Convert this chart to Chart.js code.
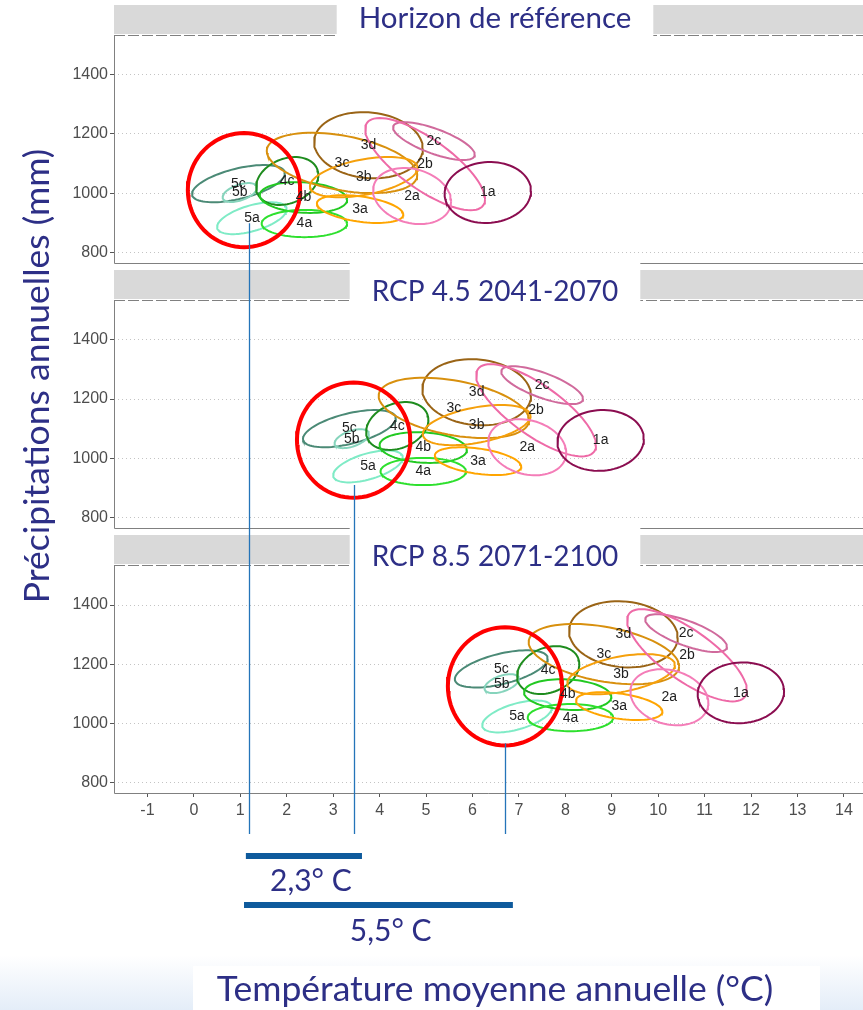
<!DOCTYPE html>
<html lang="fr">
<head>
<meta charset="utf-8">
<title>Zones climatiques - température et précipitations</title>
<script src="https://cdn.jsdelivr.net/npm/chart.js@4.4.1/dist/chart.umd.min.js"></script>
<style>
  html, body { margin: 0; padding: 0; background: #fff; }
  #wrap { width: 863px; height: 1010px; }
</style>
</head>
<body>
<div id="wrap"><canvas id="chart" width="863" height="1010"></canvas></div>
<script>
/**
 * Data
 */
const zones = ['1a', '2a', '2b', '2c', '3a', '3b', '3c', '3d', '4a', '4b', '4c', '5a', '5b', '5c'];
const zoneColors = [
  '#8B0D50', '#F47DB8', '#EE6AA7', '#D06A9C', '#FFA500', '#F5A00C', '#D8900E',
  '#9A6416', '#2EE02E', '#22C922', '#1E8C1E', '#7FEBC6', '#86D4BC', '#4B8A76',
];
const panelTitles = ['Horizon de référence', 'RCP 4.5 2041-2070', 'RCP 8.5 2071-2100'];

// Ellipse centres (°C, mm) for each horizon
const tempRef = [6.33, 4.70, 4.98, 5.17, 3.58, 3.66, 3.19, 3.76, 2.38, 2.36, 2.01, 1.25, 0.99, 0.96];
const precRef = [1002, 990, 1098, 1176, 946, 1054, 1102, 1162, 897, 985, 1041, 915, 1002, 1032];
const temp45 = [8.76, 7.18, 7.37, 7.50, 6.12, 6.09, 5.60, 6.09, 4.94, 4.94, 4.38, 3.75, 3.40, 3.35];
const prec45 = [1060, 1037, 1162, 1247, 990, 1112, 1170, 1223, 955, 1036, 1109, 972, 1066, 1100];
const temp85 = [11.78, 10.24, 10.62, 10.60, 9.16, 9.20, 8.83, 9.25, 8.11, 8.05, 7.63, 6.96, 6.63, 6.62];
const prec85 = [1103, 1088, 1230, 1305, 1058, 1166, 1234, 1301, 1019, 1097, 1180, 1023, 1134, 1184];

// Ellipse half-ranges and tilt (correlation) per zone
const tempSpread = [0.93, 0.84, 1.29, 0.88, 0.93, 1.16, 1.62, 1.17, 0.92, 0.94, 0.67, 0.75, 0.37, 1.00];
const precSpread = [103, 95, 156, 64, 47, 68, 102, 112, 46, 52, 81, 54, 32, 63];
const tilt = [0.05, -0.2, -0.76, -0.72, -0.4, 0.45, -0.4, -0.1, 0, -0.15, 0.25, 0.55, 0.5, 0.55];

// Red circles around zone 5
const circleTemp = [1.08, 3.44, 6.70];
const circlePrec = [1010, 1061, 1125];
const circleTempSpread = [1.21, 1.22, 1.23];
const circlePrecSpread = [193, 195, 200];

// Shift markers
const markerTemp = [1.18, 3.45, 6.70];
const markerPrec = [898, 909, 932];
const shiftFrom = [1.12, 1.08];
const shiftTo = [3.62, 6.87];
const shiftLabelTemp = [2.52, 4.24];
const shiftLabels = ['2,3° C', '5,5° C'];

const xTicks = [-1, 0, 1, 2, 3, 4, 5, 6, 7, 8, 9, 10, 11, 12, 13, 14];
const yTicks = [800, 1000, 1200, 1400];

/**
 * Layout
 */
const PANEL_MIN = 764;
const PANEL_MAX = 1535;
const PANEL_SHIFT = 897; // panels share one y scale, stacked this many mm apart
const NAVY = '#2D2F86';
const titleBaselines = [28, 301, 566];
const titleSizes = [29.5, 28, 28];

const centres = [[tempRef, precRef], [temp45, prec45], [temp85, prec85]];

function ellipsePoints(cx, cy, sx, sy, rho, shift) {
  const pts = [];
  const k = Math.sqrt(1 - rho * rho);
  for (let i = 0; i <= 80; i++) {
    const t = (i / 80) * 2 * Math.PI;
    pts.push({
      x: cx + sx * Math.cos(t),
      y: cy + sy * (rho * Math.cos(t) + k * Math.sin(t)) - shift,
    });
  }
  return pts;
}

const datasets = [];
centres.forEach(([temps, precs], p) => {
  zones.forEach((zone, i) => {
    datasets.push({
      label: zone,
      data: ellipsePoints(temps[i], precs[i], tempSpread[i], precSpread[i], tilt[i], p * PANEL_SHIFT),
      borderColor: zoneColors[i],
      borderWidth: 2,
      showLine: true,
      pointRadius: 0,
      fill: false,
    });
  });
});
circleTemp.forEach((t, p) => {
  datasets.push({
    label: 'zone 5',
    data: ellipsePoints(t, circlePrec[p], circleTempSpread[p], circlePrecSpread[p], 0, p * PANEL_SHIFT),
    borderColor: '#FF0000',
    borderWidth: 4,
    showLine: true,
    pointRadius: 0,
    fill: false,
    order: -1,
  });
});

/**
 * Plugin: zone labels, panel strips, shift markers, axis titles
 */
const annotations = {
  id: 'annotations',
  afterDatasetsDraw(chart) {
    const { ctx, scales: { x, y } } = chart;
    ctx.save();
    ctx.font = '14px "Liberation Sans", Arial, sans-serif';
    ctx.fillStyle = '#1E1E1E';
    ctx.textAlign = 'center';
    ctx.textBaseline = 'middle';
    centres.forEach(([temps, precs], p) => {
      zones.forEach((zone, i) => {
        ctx.fillText(zone, x.getPixelForValue(temps[i]), y.getPixelForValue(precs[i] - p * PANEL_SHIFT));
      });
    });
    ctx.restore();
  },
  afterDraw(chart) {
    const { ctx, chartArea, scales: { x, y } } = chart;
    const { left, right } = chartArea;
    ctx.save();

    // Panel frames, strips and titles
    panelTitles.forEach((title, p) => {
      const top = Math.round(y.getPixelForValue(PANEL_MAX - p * PANEL_SHIFT));
      const bottom = Math.round(y.getPixelForValue(PANEL_MIN - p * PANEL_SHIFT));
      ctx.fillStyle = '#D9D9D9';
      ctx.fillRect(left, top - 30, right - left, 29);
      ctx.strokeStyle = '#808080';
      ctx.lineWidth = 1;
      ctx.beginPath();
      ctx.moveTo(left + 0.5, top);
      ctx.lineTo(left + 0.5, bottom + 0.5);
      ctx.lineTo(right, bottom + 0.5);
      ctx.stroke();
      ctx.setLineDash([11, 3]);
      ctx.beginPath();
      ctx.moveTo(left, top + 0.5);
      ctx.lineTo(right, top + 0.5);
      ctx.stroke();
      ctx.setLineDash([]);

      ctx.font = titleSizes[p] + 'px Lato, "Open Sans", sans-serif';
      const w = ctx.measureText(title).width;
      const cx = 495;
      ctx.fillStyle = '#FFFFFF';
      ctx.fillRect(cx - w / 2 - 22, top - 42, w + 44, 46);
      ctx.fillStyle = NAVY;
      ctx.textAlign = 'center';
      ctx.textBaseline = 'alphabetic';
      ctx.fillText(title, cx, titleBaselines[p]);
    });

    // Vertical markers from zone 5a down to the shift bars
    ctx.strokeStyle = '#2474B9';
    ctx.lineWidth = 1.3;
    markerTemp.forEach((t, p) => {
      const px = Math.round(x.getPixelForValue(t)) + 0.5;
      ctx.beginPath();
      ctx.moveTo(px, y.getPixelForValue(markerPrec[p] - p * PANEL_SHIFT));
      ctx.lineTo(px, chartArea.bottom + 41);
      ctx.stroke();
    });

    // Shift bars and their labels
    const barY = [856, 905];
    const labelY = [891, 941];
    shiftFrom.forEach((t, j) => {
      const x0 = x.getPixelForValue(t);
      const x1 = x.getPixelForValue(shiftTo[j]);
      ctx.fillStyle = '#0E5A9C';
      ctx.fillRect(x0, barY[j] - 3, x1 - x0, 6);
      ctx.fillStyle = NAVY;
      ctx.font = '30px Lato, "Open Sans", sans-serif';
      ctx.textAlign = 'center';
      ctx.textBaseline = 'alphabetic';
      ctx.fillText(shiftLabels[j], x.getPixelForValue(shiftLabelTemp[j]), labelY[j]);
    });

    // Bottom background band and x title
    const grad = ctx.createLinearGradient(0, 955, 0, 1010);
    grad.addColorStop(0, '#FFFFFF');
    grad.addColorStop(1, '#E4EDF8');
    ctx.fillStyle = grad;
    ctx.fillRect(0, 955, 863, 55);
    ctx.fillStyle = '#FFFFFF';
    ctx.fillRect(193, 966, 627, 44);
    ctx.fillStyle = NAVY;
    ctx.font = '35.5px Lato, "Open Sans", sans-serif';
    ctx.textAlign = 'center';
    ctx.textBaseline = 'alphabetic';
    ctx.fillText('Température moyenne annuelle (°C)', 495, 1001);

    // Y title
    ctx.translate(38, 376);
    ctx.rotate(-Math.PI / 2);
    ctx.font = '35.5px Lato, "Open Sans", sans-serif';
    ctx.textBaseline = 'middle';
    ctx.fillText('Précipitations annuelles (mm)', 0, 0);
    ctx.restore();
  },
};

/**
 * Chart
 */
const tickFont = { family: '"Liberation Sans", Arial, sans-serif', size: 16 };

new Chart(document.getElementById('chart'), {
  type: 'scatter',
  data: { datasets },
  options: {
    responsive: false,
    animation: false,
    events: [],
    layout: { padding: { top: 35, right: 0, bottom: 187, left: 0 } },
    plugins: { legend: { display: false }, tooltip: { enabled: false } },
    scales: {
      x: {
        type: 'linear',
        min: -1.72,
        max: 14.41,
        afterBuildTicks: (scale) => {
          scale.ticks = xTicks.map((v) => ({ value: v }));
        },
        afterFit: (scale) => {
          scale.height = 30;
        },
        grid: { drawOnChartArea: false, tickLength: 4, tickColor: '#555555' },
        border: { display: false },
        ticks: { autoSkip: false, maxRotation: 0, padding: 4, color: '#4D4D4D', font: tickFont },
      },
      y: {
        type: 'linear',
        min: PANEL_MIN - 2 * PANEL_SHIFT,
        max: PANEL_MAX,
        afterBuildTicks: (scale) => {
          const ticks = [];
          for (let p = 2; p >= 0; p--) {
            yTicks.forEach((v) => ticks.push({ value: v - p * PANEL_SHIFT }));
          }
          scale.ticks = ticks;
        },
        afterFit: (scale) => {
          scale.width = 114;
        },
        grid: { color: '#C4C4C4', tickLength: 4, tickColor: '#555555' },
        border: { display: false, dash: [1, 3] },
        ticks: {
          autoSkip: false,
          padding: 2,
          color: '#4D4D4D',
          font: tickFont,
          callback: (value) => {
            for (let p = 0; p < 3; p++) {
              const v = value + p * PANEL_SHIFT;
              if (v >= PANEL_MIN && v <= PANEL_MAX) return Math.round(v);
            }
            return '';
          },
        },
      },
    },
  },
  plugins: [annotations],
});
</script>
</body>
</html>
